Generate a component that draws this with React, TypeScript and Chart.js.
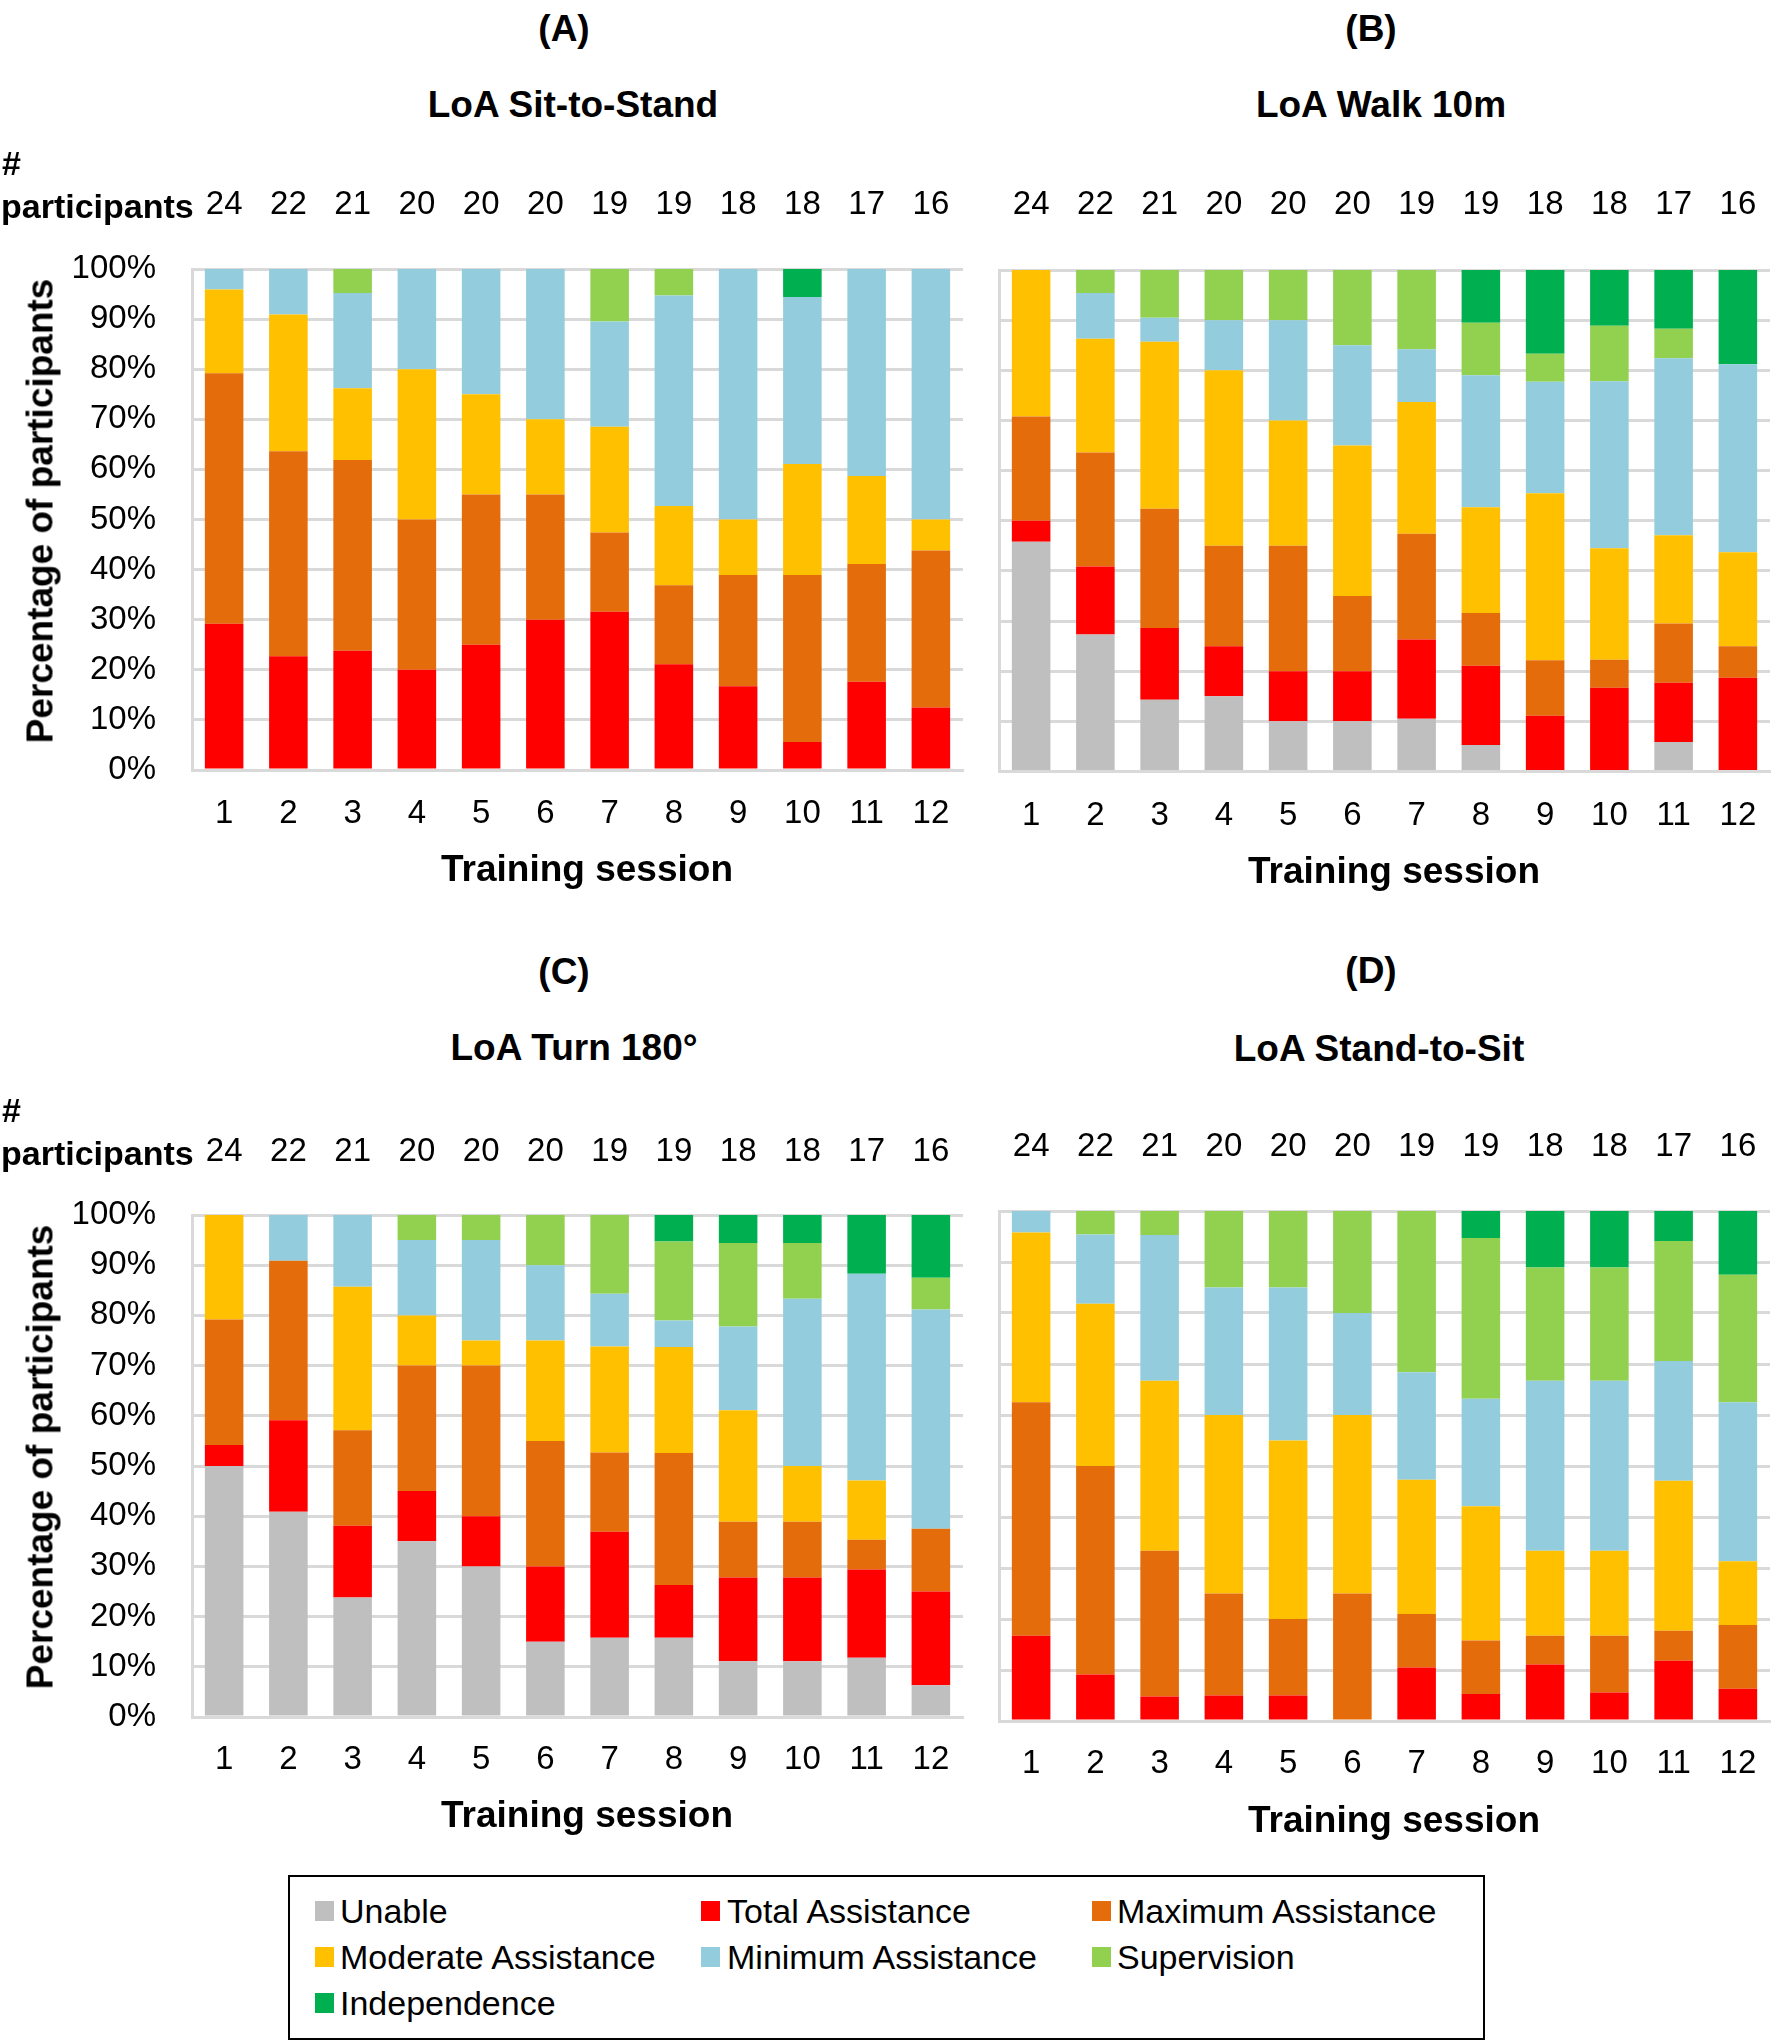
import React, { useEffect, useRef } from 'react';
import { Chart, registerables } from 'chart.js';

Chart.register(...registerables);

const FONT = "'Liberation Sans', Arial, Helvetica, sans-serif";

// ---------- data ----------
const sessions = ['1', '2', '3', '4', '5', '6', '7', '8', '9', '10', '11', '12'];
const participants = ['24', '22', '21', '20', '20', '20', '19', '19', '18', '18', '17', '16'];
const yTickValues = [0, 10, 20, 30, 40, 50, 60, 70, 80, 90, 100];

const levelNames = [
  'Unable',
  'Total Assistance',
  'Maximum Assistance',
  'Moderate Assistance',
  'Minimum Assistance',
  'Supervision',
  'Independence',
];
const levelColors = ['#BFBFBF', '#FF0000', '#E46C0A', '#FFC000', '#93CDDD', '#92D050', '#00B050'];

// (A) LoA Sit-to-Stand  (% of participants)
const sitStandUnable = [0, 0, 0, 0, 0, 0, 0, 0, 0, 0, 0, 0];
const sitStandTotal = [29.2, 22.7, 23.8, 20, 25, 30, 31.6, 21.1, 16.7, 5.6, 17.6, 12.5];
const sitStandMaximum = [50, 40.9, 38.1, 30, 30, 25, 15.8, 15.8, 22.2, 33.3, 23.5, 31.3];
const sitStandModerate = [16.7, 27.3, 14.3, 30, 20, 15, 21.1, 15.8, 11.1, 22.2, 17.6, 6.2];
const sitStandMinimum = [4.1, 9.1, 19.0, 20, 25, 30, 21.0, 42.0, 50, 33.3, 41.3, 50];
const sitStandSupervision = [0, 0, 4.8, 0, 0, 0, 10.5, 5.3, 0, 0, 0, 0];
const sitStandIndependence = [0, 0, 0, 0, 0, 0, 0, 0, 0, 5.6, 0, 0];

// (B) LoA Walk 10m
const walkUnable = [45.8, 27.3, 14.3, 15, 10, 10, 10.5, 5.3, 0, 0, 5.9, 0];
const walkTotal = [4.2, 13.6, 14.3, 10, 10, 10, 15.8, 15.8, 11.1, 16.7, 11.8, 18.7];
const walkMaximum = [20.8, 22.7, 23.8, 20, 25, 15, 21.1, 10.5, 11.1, 5.6, 11.8, 6.3];
const walkModerate = [29.2, 22.7, 33.3, 35, 25, 30, 26.3, 21.1, 33.3, 22.2, 17.6, 18.7];
const walkMinimum = [0, 9.1, 4.8, 10, 20, 20, 10.5, 26.3, 22.2, 33.3, 35.3, 37.5];
const walkSupervision = [0, 4.6, 9.5, 10, 10, 15, 15.8, 10.5, 5.6, 11.1, 5.9, 0];
const walkIndependence = [0, 0, 0, 0, 0, 0, 0, 10.5, 16.7, 11.1, 11.7, 18.8];

// (C) LoA Turn 180°
const turnUnable = [50, 40.9, 23.8, 35, 30, 15, 15.8, 15.8, 11.1, 11.1, 11.8, 6.3];
const turnTotal = [4.2, 18.2, 14.3, 10, 10, 15, 21.1, 10.5, 16.7, 16.7, 17.6, 18.7];
const turnMaximum = [25, 31.8, 19.0, 25, 30, 25, 15.8, 26.3, 11.1, 11.1, 5.9, 12.5];
const turnModerate = [20.8, 0, 28.6, 10, 5, 20, 21.1, 21.1, 22.2, 11.1, 11.8, 0];
const turnMinimum = [0, 9.1, 14.3, 15, 20, 15, 10.5, 5.3, 16.7, 33.3, 41.2, 43.7];
const turnSupervision = [0, 0, 0, 5, 5, 10, 15.7, 15.7, 16.6, 11.1, 0, 6.3];
const turnIndependence = [0, 0, 0, 0, 0, 0, 0, 5.3, 5.6, 5.6, 11.7, 12.5];

// (D) LoA Stand-to-Sit
const standSitUnable = [0, 0, 0, 0, 0, 0, 0, 0, 0, 0, 0, 0];
const standSitTotal = [16.7, 9.1, 4.8, 5, 5, 0, 10.5, 5.3, 11.1, 5.6, 11.8, 6.3];
const standSitMaximum = [45.8, 40.9, 28.6, 20, 15, 25, 10.5, 10.5, 5.6, 11.1, 5.9, 12.5];
const standSitModerate = [33.3, 31.8, 33.3, 35, 35, 35, 26.3, 26.3, 16.7, 16.7, 29.4, 12.5];
const standSitMinimum = [4.2, 13.6, 28.6, 25, 30, 20, 21.1, 21.1, 33.3, 33.3, 23.5, 31.2];
const standSitSupervision = [0, 4.6, 4.7, 15, 15, 20, 31.6, 31.5, 22.2, 22.2, 23.5, 25];
const standSitIndependence = [0, 0, 0, 0, 0, 0, 0, 5.3, 11.1, 11.1, 5.9, 12.5];

// ---------- layout ----------
type Box = { left: number; top: number; width: number; height: number };
type Plot = { left: number; right: number; top: number; bottom: number };
type PanelSpec = {
  letter: string;
  title: string;
  series: number[][];
  box: Box;
  plot: Plot;
  showY: boolean;
  countCenterY: number;
  tickCenterY: number;
  letterPos: [number, number];
  titlePos: [number, number];
  xTitlePos: [number, number];
  yTitlePos: [number, number];
};

const TICK_SIZE = 33;
const TICK_LH = TICK_SIZE * 1.2;
const AXIS_TITLE_SIZE = 37;

const panels: PanelSpec[] = [
  {
    letter: '(A)',
    title: 'LoA Sit-to-Stand',
    series: [sitStandUnable, sitStandTotal, sitStandMaximum, sitStandModerate, sitStandMinimum, sitStandSupervision, sitStandIndependence],
    box: { left: 0, top: 150, width: 980, height: 740 },
    plot: { left: 192, right: 963, top: 269, bottom: 770 },
    showY: true,
    countCenterY: 205,
    tickCenterY: 814,
    letterPos: [564, 28],
    titlePos: [573, 104],
    xTitlePos: [587, 868],
    yTitlePos: [40, 511],
  },
  {
    letter: '(B)',
    title: 'LoA Walk 10m',
    series: [walkUnable, walkTotal, walkMaximum, walkModerate, walkMinimum, walkSupervision, walkIndependence],
    box: { left: 990, top: 150, width: 782, height: 743 },
    plot: { left: 999, right: 1770, top: 270, bottom: 771.5 },
    showY: false,
    countCenterY: 205,
    tickCenterY: 816,
    letterPos: [1371, 28],
    titlePos: [1381, 104],
    xTitlePos: [1394, 870],
    yTitlePos: [0, 0],
  },
  {
    letter: '(C)',
    title: 'LoA Turn 180°',
    series: [turnUnable, turnTotal, turnMaximum, turnModerate, turnMinimum, turnSupervision, turnIndependence],
    box: { left: 0, top: 1090, width: 980, height: 746 },
    plot: { left: 192, right: 963, top: 1215, bottom: 1717 },
    showY: true,
    countCenterY: 1152,
    tickCenterY: 1760,
    letterPos: [564, 971],
    titlePos: [574, 1047],
    xTitlePos: [587, 1814],
    yTitlePos: [40, 1457],
  },
  {
    letter: '(D)',
    title: 'LoA Stand-to-Sit',
    series: [standSitUnable, standSitTotal, standSitMaximum, standSitModerate, standSitMinimum, standSitSupervision, standSitIndependence],
    box: { left: 990, top: 1090, width: 782, height: 751 },
    plot: { left: 999, right: 1770, top: 1211, bottom: 1721 },
    showY: false,
    countCenterY: 1147,
    tickCenterY: 1764,
    letterPos: [1371, 970],
    titlePos: [1379, 1048],
    xTitlePos: [1394, 1819],
    yTitlePos: [0, 0],
  },
];

function Panel({ spec }: { spec: PanelSpec }) {
  const ref = useRef<HTMLCanvasElement | null>(null);

  useEffect(() => {
    if (!ref.current) return;
    const { box, plot } = spec;
    const yW = plot.left - box.left;
    const padR = box.left + box.width - plot.right;
    const x2H = plot.top - box.top;
    const xH = box.top + box.height - plot.bottom;
    const x2Pad = plot.top - spec.countCenterY - TICK_LH / 2;
    const xPad = spec.tickCenterY - plot.bottom - TICK_LH / 2;

    const tickFont = { family: FONT, size: TICK_SIZE, weight: 'normal' as const };

    const chart = new Chart(ref.current, {
      type: 'bar',
      data: {
        labels: sessions,
        datasets: levelNames.map((name, i) => ({
          label: name,
          data: spec.series[i],
          backgroundColor: levelColors[i],
          borderWidth: 0,
          barPercentage: 0.6,
          categoryPercentage: 1,
          xAxisID: 'x',
          yAxisID: 'y',
        })),
      },
      options: {
        animation: false,
        responsive: false,
        maintainAspectRatio: false,
        devicePixelRatio: 1,
        layout: { padding: { left: 0, right: padR, top: 0, bottom: 0 } },
        plugins: {
          legend: { display: false },
          tooltip: { enabled: false },
          title: { display: false },
        },
        scales: {
          x: {
            type: 'category',
            position: 'bottom',
            stacked: true,
            offset: true,
            grid: { display: false, drawTicks: false },
            border: { display: true, color: '#D9D9D9', width: 3 },
            ticks: { color: '#000', font: tickFont, padding: xPad, maxRotation: 0, minRotation: 0, autoSkip: false },
            title: { display: false },
            afterFit: (s: any) => {
              s.height = xH;
              s.paddingLeft = 0;
              s.paddingRight = 0;
            },
          },
          x2: {
            type: 'category',
            position: 'top',
            labels: participants,
            offset: true,
            grid: { display: false, drawTicks: false },
            border: { display: false },
            ticks: { color: '#000', font: tickFont, padding: x2Pad, maxRotation: 0, minRotation: 0, autoSkip: false },
            afterFit: (s: any) => {
              s.height = x2H;
              s.paddingLeft = 0;
              s.paddingRight = 0;
            },
          },
          y: {
            type: 'linear',
            stacked: true,
            min: 0,
            max: 100,
            afterBuildTicks: (s: any) => {
              s.ticks = yTickValues.map((v) => ({ value: v }));
            },
            ticks: {
              display: spec.showY,
              color: '#000',
              font: tickFont,
              padding: 36,
              callback: (v: any) => `${v}%`,
            },
            grid: { color: '#D9D9D9', lineWidth: 3, drawTicks: false },
            border: { display: true, color: '#D9D9D9', width: 3 },
            title: { display: false },
            afterFit: (s: any) => {
              s.width = yW;
              s.paddingTop = 0;
              s.paddingBottom = 0;
            },
          },
        },
      } as any,
    });
    return () => chart.destroy();
  }, [spec]);

  const { box } = spec;
  return (
    <canvas
      ref={ref}
      width={box.width}
      height={box.height}
      style={{ position: 'absolute', left: box.left, top: box.top, width: box.width, height: box.height, display: 'block' }}
    />
  );
}

const centered = (x: number, y: number, size: number, bold = true, rotate = 0): React.CSSProperties => ({
  position: 'absolute',
  left: x,
  top: y,
  transform: `translate(-50%, -50%)${rotate ? ` rotate(${rotate}deg)` : ''}`,
  fontFamily: FONT,
  fontSize: size,
  fontWeight: bold ? 'bold' : 'normal',
  lineHeight: 1,
  whiteSpace: 'nowrap',
  color: '#000',
});

const leftMid = (x: number, y: number, size: number, bold: boolean): React.CSSProperties => ({
  position: 'absolute',
  left: x,
  top: y,
  transform: 'translateY(-50%)',
  fontFamily: FONT,
  fontSize: size,
  fontWeight: bold ? 'bold' : 'normal',
  lineHeight: 1,
  whiteSpace: 'nowrap',
  color: '#000',
});

// legend placement (columns x: marker, text; rows y center)
const legendCols = [
  [315, 340],
  [701, 727],
  [1092, 1117],
];
const legendRows = [1911, 1957, 2003];

export default function App() {
  return (
    <div style={{ position: 'absolute', left: 0, top: 0, width: 1772, height: 2042, background: '#fff', overflow: 'hidden' }}>
      {panels.map((p) => (
        <Panel key={p.letter} spec={p} />
      ))}
      {panels.map((p) => (
        <React.Fragment key={p.letter + 't'}>
          <div style={centered(p.letterPos[0], p.letterPos[1], 37)}>{p.letter}</div>
          <div style={centered(p.titlePos[0], p.titlePos[1], 37)}>{p.title}</div>
          <div style={centered(p.xTitlePos[0], p.xTitlePos[1], AXIS_TITLE_SIZE)}>Training session</div>
          {p.showY && (
            <>
              <div style={centered(p.yTitlePos[0], p.yTitlePos[1], AXIS_TITLE_SIZE, true, -90)}>Percentage of participants</div>
              <div style={leftMid(2, p.countCenterY - 42, 34, true)}>#</div>
              <div style={leftMid(1, p.countCenterY + 1, 34, true)}>participants</div>
            </>
          )}
        </React.Fragment>
      ))}
      <div
        style={{
          position: 'absolute',
          left: 288,
          top: 1875,
          width: 1197,
          height: 165,
          border: '2px solid #000',
          boxSizing: 'border-box',
        }}
      />
      {levelNames.map((name, i) => {
        const col = legendCols[i % 3];
        const row = legendRows[Math.floor(i / 3)];
        return (
          <React.Fragment key={name}>
            <div style={{ position: 'absolute', left: col[0], top: row - 10, width: 19, height: 20, background: levelColors[i] }} />
            <div style={leftMid(col[1], row, 34, false)}>{name}</div>
          </React.Fragment>
        );
      })}
    </div>
  );
}
